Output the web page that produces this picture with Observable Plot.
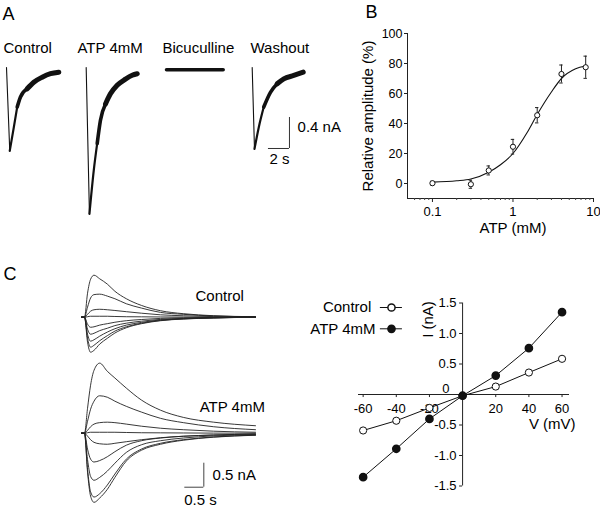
<!DOCTYPE html>
<html><head><meta charset="utf-8">
<script src="https://cdn.jsdelivr.net/npm/d3@7"></script>
<script src="https://cdn.jsdelivr.net/npm/@observablehq/plot@0.6"></script>
<style>
html,body{margin:0;padding:0;background:#fff;}
#fig{position:relative;width:600px;height:514px;overflow:hidden;background:#fff;}
</style></head>
<body><div id="fig"></div>
<script>
// ================= DATA =================
// Panel A: example GABA currents (time in s from trace start, current in nA)
const aConditions = ["Control", "ATP 4mM", "Bicuculline", "Washout"];
const aCtrlT = [0, 0.31, 0.70, 1.02, 1.33, 1.97, 2.60, 3.40, 4.19, 4.98];
const aCtrlI = [0, -1.075, -0.77, -0.51, -0.38, -0.275, -0.19, -0.125, -0.08, -0.06];
const aAtpT = [0, 0.31, 0.72, 1.05, 1.36, 1.84, 2.31, 2.95, 3.74, 4.38, 4.86];
const aAtpI = [0, -1.89, -1.33, -0.98, -0.68, -0.47, -0.34, -0.23, -0.15, -0.10, -0.08];
const aBicT = [0, 1.1, 2.2, 3.3, 4.4, 5.4];
const aBicI = [-0.03, -0.03, -0.03, -0.03, -0.03, -0.03];
const aWashT = [0, 0.22, 0.63, 1.10, 1.74, 2.38, 3.01, 3.96, 4.86];
const aWashI = [0, -1.05, -0.77, -0.51, -0.32, -0.21, -0.146, -0.103, -0.06];
const aScaleBar = {s: 2, nA: 0.4, sLabel: "2 s", nALabel: "0.4 nA"};

// Panel B: concentration-response
const atpConc = [0.1, 0.3, 0.5, 1, 2, 4, 8];
const relAmp = [0.2, -0.5, 8.7, 24.5, 45.5, 73, 77.5];
const relAmpSem = [1.3, 2.7, 3, 4.9, 5.1, 6, 7.4];
const fitConc = [0.1, 0.2, 0.3, 0.5, 0.7, 1, 1.5, 2, 3, 4, 6, 8];
const fitAmp = [0.9, 1.8, 3, 7.5, 12.5, 20, 34, 46, 61, 70, 76.5, 78.3];
const bYTicks = [0, 20, 40, 60, 80, 100];
const bXMajor = [0.1, 1, 10];
const bXMinor = [0.06,0.07,0.08,0.09,0.2,0.3,0.4,0.5,0.6,0.7,0.8,0.9,2,3,4,5,6,7,8,9];

// Panel C: current families (time s, current nA)
const cTime = [-0.08, 0, 0.08, 0.16, 0.25, 0.4, 0.6, 0.8, 1.1, 1.5, 2.0, 2.6, 3.4, 4.5];
const cControl = [
  [0, 0, 0.50, 0.79, 0.875, 0.80, 0.69, 0.54, 0.385, 0.245, 0.135, 0.073, 0.031, 0.01],
  [0, 0, 0.21, 0.40, 0.47, 0.48, 0.44, 0.385, 0.28, 0.19, 0.10, 0.06, 0.025, 0.008],
  [0, 0, 0.06, 0.125, 0.155, 0.165, 0.155, 0.14, 0.115, 0.083, 0.05, 0.03, 0.012, 0.004],
  [0, 0, 0.01, 0.02, 0.02, 0.02, 0.02, 0.015, 0.01, 0.008, 0.005, 0.003, 0, 0],
  [0, 0, -0.145, -0.21, -0.2, -0.165, -0.135, -0.105, -0.073, -0.048, -0.025, -0.012, -0.006, 0],
  [0, 0, -0.25, -0.355, -0.335, -0.28, -0.23, -0.175, -0.125, -0.083, -0.046, -0.025, -0.01, 0],
  [0, 0, -0.355, -0.5, -0.47, -0.395, -0.31, -0.24, -0.165, -0.108, -0.058, -0.031, -0.012, 0],
  [0, 0, -0.44, -0.625, -0.585, -0.49, -0.385, -0.29, -0.2, -0.125, -0.067, -0.035, -0.015, 0],
  [0, 0, -0.52, -0.73, -0.69, -0.56, -0.44, -0.33, -0.22, -0.135, -0.073, -0.038, -0.017, 0]
];
const cATP = [
  [0, 0, 0.52, 1.0, 1.31, 1.46, 1.29, 1.15, 0.94, 0.69, 0.48, 0.33, 0.23, 0.156],
  [0, 0, 0.25, 0.5, 0.667, 0.78, 0.75, 0.667, 0.56, 0.44, 0.31, 0.22, 0.135, 0.073],
  [0, 0, 0.06, 0.135, 0.19, 0.22, 0.23, 0.22, 0.19, 0.146, 0.104, 0.073, 0.042, 0.02],
  [0, 0, 0.01, 0.02, 0.02, 0.02, 0.02, 0.02, 0.015, 0.01, 0.008, 0.005, 0.002, 0],
  [0, 0, -0.06, -0.135, -0.19, -0.22, -0.23, -0.21, -0.177, -0.135, -0.094, -0.063, -0.037, -0.017],
  [0, 0, -0.33, -0.54, -0.6, -0.57, -0.49, -0.385, -0.25, -0.156, -0.1, -0.063, -0.037, -0.019],
  [0, 0, -0.55, -0.9, -0.98, -0.92, -0.79, -0.625, -0.4, -0.24, -0.156, -0.1, -0.056, -0.029],
  [0, 0, -0.75, -1.22, -1.33, -1.26, -1.08, -0.85, -0.54, -0.33, -0.21, -0.135, -0.077, -0.04],
  [0, 0, -0.81, -1.31, -1.44, -1.35, -1.17, -0.92, -0.58, -0.354, -0.23, -0.146, -0.083, -0.042]
];
const cFamilies = ["Control", "ATP 4mM"];
const cScaleBar = {s: 0.5, nA: 0.5, sLabel: "0.5 s", nALabel: "0.5 nA"};

// Panel C: I-V relation
const ivSeries = ["Control", "ATP 4mM"];
const voltages = [-60, -40, -20, 0, 20, 40, 60];
const ivControl = [-0.59, -0.43, -0.22, -0.02, 0.13, 0.36, 0.585];
const ivATP = [-1.355, -0.89, -0.40, -0.02, 0.31, 0.76, 1.35];
const ivXTicks = [-60, -40, -20, 20, 40, 60];
const ivYTicks = [-1.5, -1.0, -0.5, 0, 0.5, 1.0, 1.5];

// ================= LAYOUT =================
const FONT = '"Liberation Sans", Arial, Helvetica, sans-serif';
const baseStyle = {fontFamily: FONT, fontSize: "13px", color: "black", background: "transparent", overflow: "visible"};
const fig = document.getElementById("fig");
function place(svg, left, top) {
  svg.style.position = "absolute";
  svg.style.left = left + "px";
  svg.style.top = top + "px";
  svg.style.overflow = "visible";
  fig.appendChild(svg);
}

// ---------- Panel A ----------
const A = {pxPerS: 10.5, pxPerNA: 77.5, width: 345, height: 232, baseline: 67,
  start: [0.571, 8.16, 15.81, 23.97], labelX: [0.286, 7.33, 15.43, 23.81], labelY: 0.252,
  barX: 25.52, barY: -1.045, letterX: 0.19, letterY: 0.69,
  segs: [["fall", 0, 1, 1.1], ["early", 1, 3, 2.2], ["mid", 3, 5, 3.6], ["late", 5, 99, 5]]};
const aSeries = [[aCtrlT, aCtrlI], [aAtpT, aAtpI], [aBicT, aBicI], [aWashT, aWashI]];
const aRows = [];
aSeries.forEach(([T, I], k) => {
  const name = aConditions[k];
  T.forEach((t, j) => {
    const p = {trace: name, x: A.start[k] + t, y: I[j]};
    if (name === "Bicuculline") { aRows.push({...p, seg: "flat"}); return; }
    A.segs.forEach(([s, i0, i1]) => { if (j >= i0 && j <= i1) aRows.push({...p, seg: s}); });
  });
});
const aPlot = Plot.plot({
  width: A.width, height: A.height, margin: 0,
  style: baseStyle,
  x: {domain: [0, A.width / A.pxPerS], axis: null},
  y: {domain: [(A.baseline - A.height) / A.pxPerNA, A.baseline / A.pxPerNA], axis: null},
  marks: [
    ...A.segs.map(([s, , , w]) => Plot.line(aRows.filter(r => r.seg === s),
      {x: "x", y: "y", z: "trace", curve: "monotone-x", stroke: "#111", strokeWidth: w})),
    Plot.line(aRows.filter(r => r.seg === "flat"), {x: "x", y: "y", stroke: "#111", strokeWidth: 3.5}),
    Plot.ruleY([A.barY], {x1: A.barX, x2: A.barX + aScaleBar.s, stroke: "#333"}),
    Plot.ruleX([A.barX + aScaleBar.s], {y1: A.barY, y2: A.barY + aScaleBar.nA, stroke: "#333"}),
    Plot.text([aScaleBar.nALabel], {x: A.barX + aScaleBar.s + 0.77, y: A.barY + aScaleBar.nA * 0.7, textAnchor: "start", fontSize: 15}),
    Plot.text([aScaleBar.sLabel], {x: A.barX + aScaleBar.s * 0.52, y: A.barY - 0.142, fontSize: 15}),
    Plot.text(aConditions, {x: (d, i) => A.labelX[i], y: A.labelY, text: d => d, textAnchor: "start", fontSize: 15}),
    Plot.text(["A"], {x: A.letterX, y: A.letterY, textAnchor: "start", fontSize: 18})
  ]
});
place(aPlot, 0, 0);

// ---------- Panel B ----------
const bRows = atpConc.map((c, i) => ({c, v: relAmp[i], e: relAmpSem[i]}));
const bFit = fitConc.map((c, i) => ({c, v: fitAmp[i]}));
const B = {xMin: 0.049, xMax: 10, yMin: -10, yMax: 100, cap: 1.05};
const bPlot = Plot.plot({
  width: 260, height: 260, marginLeft: 67, marginRight: 7, marginTop: 33, marginBottom: 62,
  style: baseStyle,
  x: {type: "log", domain: [B.xMin, B.xMax], label: null},
  y: {domain: [B.yMin, B.yMax], label: null},
  marks: [
    Plot.ruleX([B.xMin], {stroke: "#222"}),
    Plot.ruleY([B.yMin], {stroke: "#222"}),
    Plot.axisY(bYTicks, {tickSize: 3, tickPadding: 2, fontSize: 12.5, label: null, stroke: "#222"}),
    Plot.axisX(bXMajor, {tickSize: 4, tickPadding: 4, fontSize: 13, label: null, tickFormat: d => String(d), stroke: "#222"}),
    Plot.axisX(bXMinor, {tickSize: 2, tickFormat: () => "", label: null, stroke: "#444"}),
    Plot.text(["Relative amplitude (%)"], {frameAnchor: "left", dx: -39, rotate: -90, textAnchor: "middle", lineAnchor: "middle", fontSize: 15}),
    Plot.text(["ATP (mM)"], {x: 1, frameAnchor: "bottom", dy: 30, textAnchor: "middle", lineAnchor: "middle", fontSize: 15}),
    Plot.text(["B"], {frameAnchor: "top-left", dx: -42, dy: -21, textAnchor: "start", lineAnchor: "middle", fontSize: 18}),
    Plot.line(bFit, {x: "c", y: "v", curve: "monotone-x", stroke: "#111", strokeWidth: 1.1}),
    Plot.ruleX(bRows, {x: "c", y1: d => d.v - d.e, y2: d => d.v + d.e, stroke: "#222"}),
    Plot.ruleY(bRows, {y: d => d.v - d.e, x1: d => d.c / B.cap, x2: d => d.c * B.cap, stroke: "#222"}),
    Plot.ruleY(bRows, {y: d => d.v + d.e, x1: d => d.c / B.cap, x2: d => d.c * B.cap, stroke: "#222"}),
    Plot.dot(bRows, {x: "c", y: "v", r: 2.6, fill: "white", stroke: "#111", strokeWidth: 1})
  ]
});
place(bPlot, 340, 0);

// ---------- Panel C: traces ----------
const C = {pxPerS: 38, pxPerNA: 48, width: 300, height: 254, startPx: 84, baselinePx: 56.7,
  atpOffset: -2.417, barX: 2.64, barY: -3.542,
  famLabelX: [2.92, 3.03], famLabelY: [0.431, -1.875], letterX: -2.13, letterY: 0.89};
const cRows = [];
[cControl, cATP].forEach((fam, f) => {
  fam.forEach((vals, k) => {
    vals.forEach((v, j) => cRows.push({id: f + "-" + k, t: cTime[j], I: v + (f === 1 ? C.atpOffset : 0)}));
  });
});
const cPlot = Plot.plot({
  width: C.width, height: C.height, margin: 0,
  style: baseStyle,
  x: {domain: [-C.startPx / C.pxPerS, (C.width - C.startPx) / C.pxPerS], axis: null},
  y: {domain: [(C.baselinePx - C.height) / C.pxPerNA, C.baselinePx / C.pxPerNA], axis: null},
  marks: [
    Plot.line(cRows, {x: "t", y: "I", z: "id", curve: "monotone-x", stroke: "#222", strokeWidth: 0.9}),
    Plot.ruleY([C.barY], {x1: C.barX, x2: C.barX + cScaleBar.s, stroke: "#444"}),
    Plot.ruleX([C.barX + cScaleBar.s], {y1: C.barY, y2: C.barY + cScaleBar.nA, stroke: "#444"}),
    Plot.text([cScaleBar.nALabel], {x: C.barX + cScaleBar.s + 0.23, y: C.barY + cScaleBar.nA * 0.5, textAnchor: "start", fontSize: 15}),
    Plot.text([cScaleBar.sLabel], {x: C.barX + cScaleBar.s * 0.82, y: C.barY - 0.277, fontSize: 15}),
    Plot.text(cFamilies, {x: (d, i) => C.famLabelX[i], y: (d, i) => C.famLabelY[i], textAnchor: "start", fontSize: 15}),
    Plot.text(["C"], {x: C.letterX, y: C.letterY, textAnchor: "start", fontSize: 18})
  ]
});
place(cPlot, 0, 260);

// ---------- Panel C: I-V ----------
const IV = {tickMv: 1.8, tickNA: 0.05,
  yLabelX: -20.9, yLabelY: 1.23, xLabelX: 54.1, xLabelY: -0.48,
  legendTextX: [-55.1, -52.5], legendY: [1.426, 1.077], legendLineX: [-49.6, -36.3], legendDotX: -42.9};
const ivC = voltages.map((v, i) => ({v, I: ivControl[i]}));
const ivA = voltages.map((v, i) => ({v, I: ivATP[i]}));
const ivPlot = Plot.plot({
  width: 300, height: 230, marginLeft: 58, marginRight: 31, marginTop: 22.5, marginBottom: 24.5,
  style: baseStyle,
  x: {domain: [-62.8, 64.5], axis: null},
  y: {domain: [-1.5, 1.5], axis: null},
  marks: [
    Plot.text(ivYTicks.filter(d => d !== 0), {x: 0, y: d => d, dx: -6, textAnchor: "end", text: d => d.toFixed(1), fontSize: 13}),
    Plot.text([0], {x: 0, y: 0, dx: -13, dy: -6, textAnchor: "end", text: d => String(d), fontSize: 13}),
    Plot.text(ivXTicks, {x: d => d, y: 0, dy: 14, text: d => String(d), fontSize: 13}),
    Plot.ruleY([0], {stroke: "#222"}),
    Plot.ruleX([0], {stroke: "#222"}),
    Plot.ruleY(ivYTicks, {y: d => d, x1: 0, x2: -IV.tickMv, stroke: "#222"}),
    Plot.ruleX(ivXTicks, {x: d => d, y1: 0, y2: -IV.tickNA, stroke: "#222"}),
    Plot.text(["I (nA)"], {x: IV.yLabelX, y: IV.yLabelY, rotate: -90, fontSize: 15}),
    Plot.text(["V (mV)"], {x: IV.xLabelX, y: IV.xLabelY, fontSize: 15}),
    Plot.line(ivC, {x: "v", y: "I", stroke: "#111", strokeWidth: 1}),
    Plot.line(ivA, {x: "v", y: "I", stroke: "#111", strokeWidth: 1}),
    Plot.dot(ivC, {x: "v", y: "I", r: 3.6, fill: "white", stroke: "#111", strokeWidth: 1}),
    Plot.dot(ivA, {x: "v", y: "I", r: 3.6, fill: "#111", stroke: "#111"}),
    Plot.text(ivSeries, {x: (d, i) => IV.legendTextX[i], y: (d, i) => IV.legendY[i], textAnchor: "end", fontSize: 15}),
    Plot.ruleY(ivSeries, {y: (d, i) => IV.legendY[i], x1: IV.legendLineX[0], x2: IV.legendLineX[1], stroke: "#111"}),
    Plot.dot([ivSeries[0]], {x: IV.legendDotX, y: IV.legendY[0], r: 3.6, fill: "white", stroke: "#111"}),
    Plot.dot([ivSeries[1]], {x: IV.legendDotX, y: IV.legendY[1], r: 3.6, fill: "#111", stroke: "#111"})
  ]
});
place(ivPlot, 300, 280);
</script>
</body></html>
